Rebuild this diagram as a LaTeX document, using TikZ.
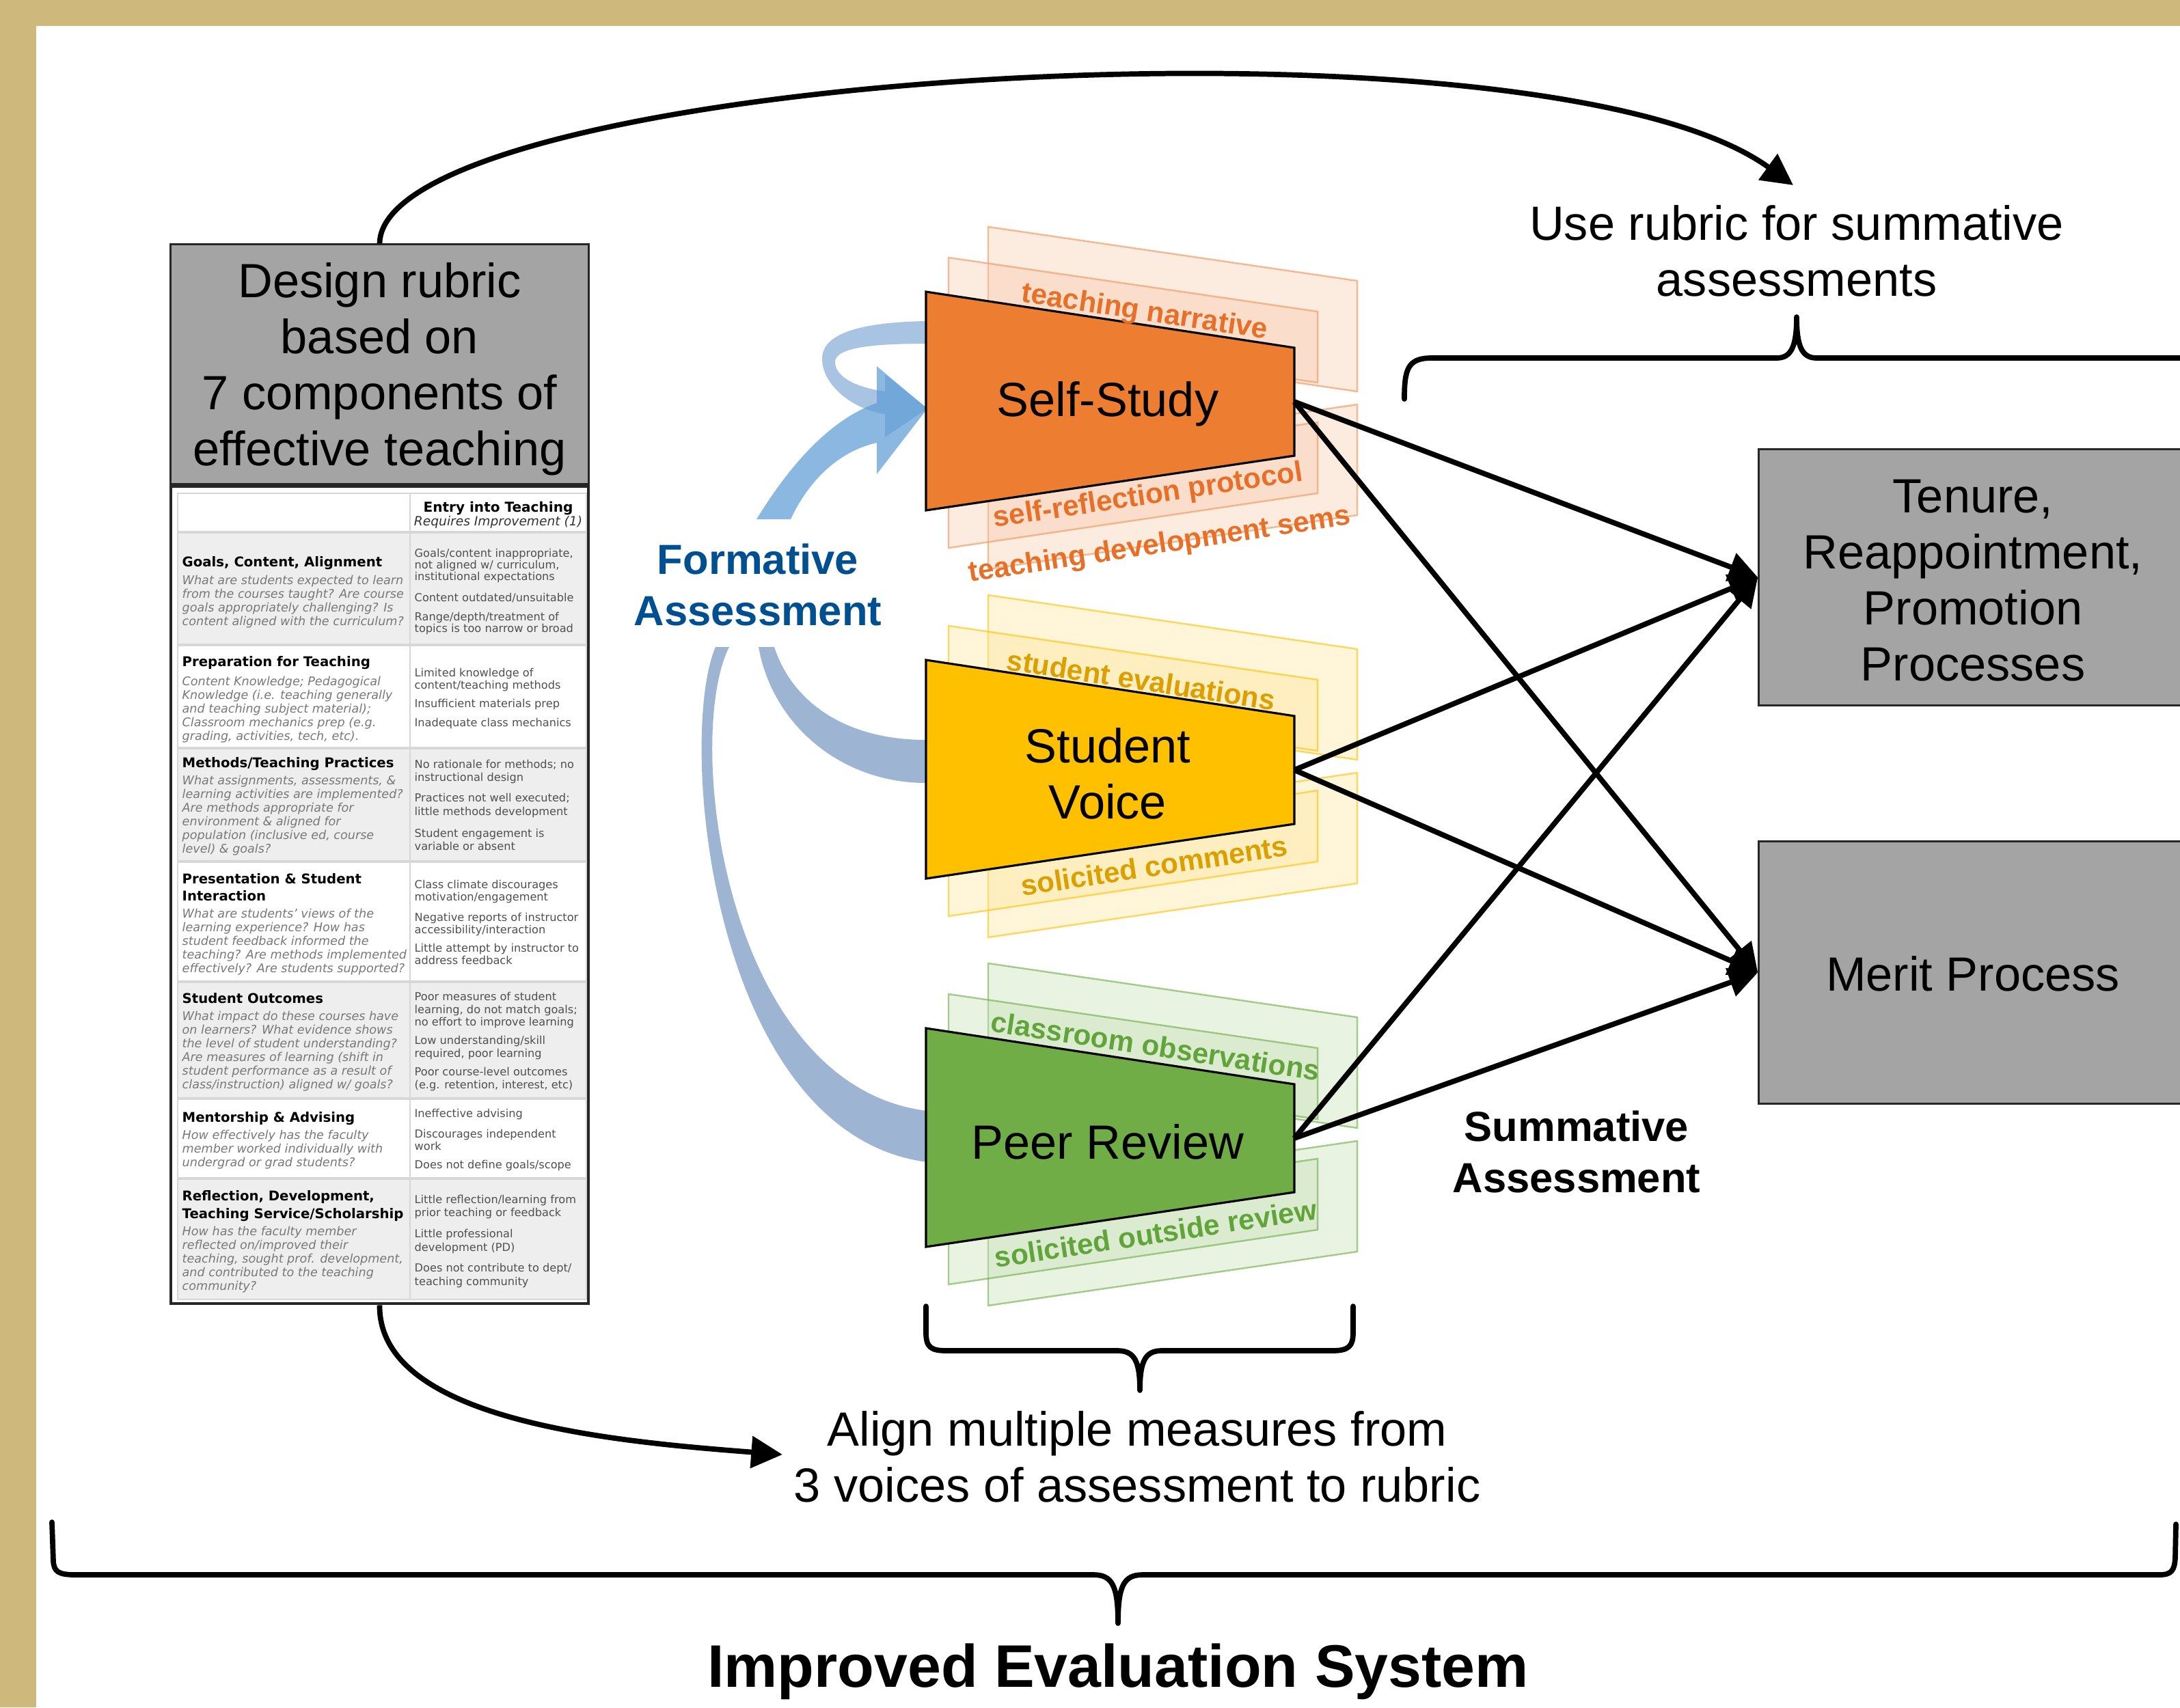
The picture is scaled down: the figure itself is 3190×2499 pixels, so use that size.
\documentclass[tikz,border=0pt]{standalone}
\usepackage{fontspec}
\setmainfont{Liberation Sans}
\newfontfamily\tabfont{DejaVu Sans}[ItalicFont={DejaVu Sans Oblique},BoldFont={DejaVu Sans Bold},BoldItalicFont={DejaVu Sans Bold Oblique}]
\usetikzlibrary{arrows.meta}

\definecolor{gold}{RGB}{206,184,124}
\definecolor{boxgray}{RGB}{163,164,163}
\definecolor{ssorange}{RGB}{237,125,49}
\definecolor{svyellow}{RGB}{255,192,0}
\definecolor{prgreen}{RGB}{112,173,71}
\definecolor{ortext}{RGB}{231,111,40}
\definecolor{yetext}{RGB}{219,159,0}
\definecolor{grtext}{RGB}{97,165,58}
\definecolor{orfill}{RGB}{248,203,173}
\definecolor{orline}{RGB}{240,160,110}
\definecolor{yefill}{RGB}{255,230,153}
\definecolor{yeline}{RGB}{255,192,0}
\definecolor{grfill}{RGB}{197,224,180}
\definecolor{grline}{RGB}{112,173,71}
\definecolor{formblue}{RGB}{0,79,145}
\definecolor{bandblue}{RGB}{157,181,211}
\definecolor{loopblue}{RGB}{160,190,225}
\definecolor{arrblue}{RGB}{91,155,213}
\definecolor{rowgray}{RGB}{238,238,238}
\definecolor{gridgray}{RGB}{215,215,215}
\definecolor{qgray}{RGB}{120,120,120}
\definecolor{dgray}{RGB}{80,80,80}

% four translucent sheets behind one voice; #1 = vertical offset, #2 = sheet style
\newcommand\sheetset[2]{%
  \draw[#2] (1446,{332+#1}) -- (1986,{411+#1}) -- (1986,{573+#1}) -- (1446,{494+#1}) -- cycle;
  \draw[#2] (1446,{671+#1}) -- (1986,{592+#1}) -- (1986,{754+#1}) -- (1446,{833+#1}) -- cycle;
  \draw[#2] (1388,{377+#1}) -- (1928,{456+#1}) -- (1928,{560+#1}) -- (1388,{481+#1}) -- cycle;
  \draw[#2] (1388,{698+#1}) -- (1928,{618+#1}) -- (1928,{722+#1}) -- (1388,{802+#1}) -- cycle;
}
% funnel-shaped voice panel; #1 = vertical offset, #2 = fill colour
\newcommand\voicepanel[2]{%
  \draw[voice, fill=#2] (1355,{427+#1}) -- (1894,{509+#1}) -- (1894,{667+#1}) -- (1355,{747+#1}) -- cycle;
}

\begin{document}
\begin{tikzpicture}[x=0.01cm, y=-0.01cm,
  big/.style={font=\fontsize{20}{23.3}\selectfont, align=center, inner sep=0pt},
  graybox/.style={draw=black!85, line width=0.9pt, fill=boxgray, inner sep=0pt},
  conn/.style={line width=2.2pt, -{Triangle[length=12pt,width=12pt]}},
  bigconn/.style={line width=2.2pt, -{Triangle[length=13pt,width=13pt]}},
  brace/.style={line width=2.2pt, line cap=round, line join=round},
  voice/.style={draw=black, line width=0.9pt},
  sheetor/.style={fill=orfill, fill opacity=0.38, draw=orline, draw opacity=0.7, line width=0.7pt},
  sheetye/.style={fill=yefill, fill opacity=0.38, draw=yeline, draw opacity=0.6, line width=0.7pt},
  sheetgr/.style={fill=grfill, fill opacity=0.38, draw=grline, draw opacity=0.6, line width=0.7pt},
  lab/.style={font=\fontsize{12}{14}\selectfont\bfseries, inner sep=0pt},
  bold/.style={font=\fontsize{17.5}{21.3}\selectfont\bfseries, align=center, inner sep=0pt},
  ttl/.style={font=\tabfont\bfseries\fontsize{5.6}{6.7}\selectfont, anchor=base west, inner sep=0pt},
  qst/.style={font=\tabfont\itshape\fontsize{5}{6}\selectfont, text=qgray, anchor=base west, inner sep=0pt},
  crt/.style={font=\tabfont\fontsize{4.6}{5.5}\selectfont, text=dgray, anchor=base west, inner sep=0pt},
  hdr/.style={font=\tabfont\bfseries\fontsize{5.7}{6.8}\selectfont, anchor=base, inner sep=0pt},
  hdri/.style={font=\tabfont\itshape\fontsize{5.3}{6.3}\selectfont, text=black!80, anchor=base, inner sep=0pt}
]
\useasboundingbox (0,0) rectangle (3190,2499);

% frame
\fill[gold] (0,0) rectangle (3190,2499);
\fill[white] (53,38) rectangle (3190,2499);

% ---------------- rubric heading and table ----------------
\node[graybox, minimum width=6.11cm, minimum height=3.50cm] (design) at (555.5,533) {};
\node[big] (design-text) at (555.5,540) {Design rubric\\based on\\7 components of\\effective teaching};

\node[draw=black!85, line width=1.2pt, fill=white, minimum width=6.11cm, minimum height=11.96cm, inner sep=0pt] (rubric) at (555.5,1310) {};

% row shading
\fill[rowgray] (260,779) rectangle (858,944);
\fill[rowgray] (260,1095) rectangle (858,1261);
\fill[rowgray] (260,1437) rectangle (858,1608);
\fill[rowgray] (260,1725) rectangle (858,1902);
% grid
\draw[gridgray, line width=0.6pt] (260,722) rectangle (858,1902);
\draw[gridgray, line width=0.6pt] (600,722) -- (600,1902);
\foreach \yy in {779,944,1095,1261,1437,1608,1725}
  \draw[gridgray, line width=0.9pt] (260,\yy) -- (858,\yy);

% header
\node[hdr] (h1) at (729,749) {Entry into Teaching};
\node[hdri] (h2) at (729,769) {Requires Improvement (1)};

% row 1
\node[ttl] (a1) at (266,829) {Goals, Content, Alignment};
\node[qst] (a2) at (266,855) {What are students expected to learn};
\node[qst] (a3) at (266,875) {from the courses taught? Are course};
\node[qst] (a4) at (266,895) {goals appropriately challenging? Is};
\node[qst] (a5) at (266,915) {content aligned with the curriculum?};
\node[crt] (b1) at (606,815) {Goals/content inappropriate,};
\node[crt] (b2) at (606,832) {not aligned w/ curriculum,};
\node[crt] (b3) at (606,849) {institutional expectations};
\node[crt] (b4) at (606,880) {Content outdated/unsuitable};
\node[crt] (b5) at (606,908) {Range/depth/treatment of};
\node[crt] (b6) at (606,925) {topics is too narrow or broad};

% row 2
\node[ttl] (c1) at (266,975) {Preparation for Teaching};
\node[qst] (c2) at (266,1003) {Content Knowledge; Pedagogical};
\node[qst] (c3) at (266,1023) {Knowledge (i.e. teaching generally};
\node[qst] (c4) at (266,1043) {and teaching subject material);};
\node[qst] (c5) at (266,1063) {Classroom mechanics prep (e.g.};
\node[qst] (c6) at (266,1083) {grading, activities, tech, etc).};
\node[crt] (d1) at (606,990) {Limited knowledge of};
\node[crt] (d2) at (606,1008) {content/teaching methods};
\node[crt] (d3) at (606,1035) {Insufficient materials prep};
\node[crt] (d4) at (606,1063) {Inadequate class mechanics};

% row 3
\node[ttl] (e1) at (266,1123) {Methods/Teaching Practices};
\node[qst] (e2) at (266,1148) {What assignments, assessments, \&};
\node[qst] (e3) at (266,1168) {learning activities are implemented?};
\node[qst] (e4) at (266,1188) {Are methods appropriate for};
\node[qst] (e5) at (266,1208) {environment \& aligned for};
\node[qst] (e6) at (266,1228) {population (inclusive ed, course};
\node[qst] (e7) at (266,1248) {level) \& goals?};
\node[crt] (f1) at (606,1124) {No rationale for methods; no};
\node[crt] (f2) at (606,1143) {instructional design};
\node[crt] (f3) at (606,1173) {Practices not well executed;};
\node[crt] (f4) at (606,1193) {little methods development};
\node[crt] (f5) at (606,1225) {Student engagement is};
\node[crt] (f6) at (606,1244) {variable or absent};

% row 4
\node[ttl] (g1) at (266,1293) {Presentation \& Student};
\node[ttl] (g2) at (266,1318) {Interaction};
\node[qst] (g3) at (266,1343) {What are students’ views of the};
\node[qst] (g4) at (266,1363) {learning experience? How has};
\node[qst] (g5) at (266,1383) {student feedback informed the};
\node[qst] (g6) at (266,1403) {teaching? Are methods implemented};
\node[qst] (g7) at (266,1423) {effectively? Are students supported?};
\node[crt] (k1) at (606,1300) {Class climate discourages};
\node[crt] (k2) at (606,1318) {motivation/engagement};
\node[crt] (k3) at (606,1348) {Negative reports of instructor};
\node[crt] (k4) at (606,1366) {accessibility/interaction};
\node[crt] (k5) at (606,1393) {Little attempt by instructor to};
\node[crt] (k6) at (606,1411) {address feedback};

% row 5
\node[ttl] (m1) at (266,1468) {Student Outcomes};
\node[qst] (m2) at (266,1493) {What impact do these courses have};
\node[qst] (m3) at (266,1513) {on learners? What evidence shows};
\node[qst] (m4) at (266,1533) {the level of student understanding?};
\node[qst] (m5) at (266,1553) {Are measures of learning (shift in};
\node[qst] (m6) at (266,1573) {student performance as a result of};
\node[qst] (m7) at (266,1593) {class/instruction) aligned w/ goals?};
\node[crt] (n1) at (606,1464) {Poor measures of student};
\node[crt] (n2) at (606,1483) {learning, do not match goals;};
\node[crt] (n3) at (606,1501) {no effort to improve learning};
\node[crt] (n4) at (606,1528) {Low understanding/skill};
\node[crt] (n5) at (606,1547) {required, poor learning};
\node[crt] (n6) at (606,1574) {Poor course-level outcomes};
\node[crt] (n7) at (606,1593) {(e.g. retention, interest, etc)};

% row 6
\node[ttl] (p1) at (266,1642) {Mentorship \& Advising};
\node[qst] (p2) at (266,1667) {How effectively has the faculty};
\node[qst] (p3) at (266,1687) {member worked individually with};
\node[qst] (p4) at (266,1707) {undergrad or grad students?};
\node[crt] (q1) at (606,1635) {Ineffective advising};
\node[crt] (q2) at (606,1665) {Discourages independent};
\node[crt] (q3) at (606,1683) {work};
\node[crt] (q4) at (606,1710) {Does not define goals/scope};

% row 7
\node[ttl] (s1) at (266,1757) {Reflection, Development,};
\node[ttl] (s2) at (266,1783) {Teaching Service/Scholarship};
\node[qst] (s3) at (266,1808) {How has the faculty member};
\node[qst] (s4) at (266,1828) {reflected on/improved their};
\node[qst] (s5) at (266,1848) {teaching, sought prof. development,};
\node[qst] (s6) at (266,1868) {and contributed to the teaching};
\node[qst] (s7) at (266,1888) {community?};
\node[crt] (u1) at (606,1761) {Little reflection/learning from};
\node[crt] (u2) at (606,1780) {prior teaching or feedback};
\node[crt] (u3) at (606,1811) {Little professional};
\node[crt] (u4) at (606,1831) {development (PD)};
\node[crt] (u5) at (606,1861) {Does not contribute to dept/};
\node[crt] (u6) at (606,1881) {teaching community};

% ---------------- formative feedback ribbons ----------------
\fill[bandblue] (1133,947) .. controls (1160,1030) and (1240,1083) .. (1355,1083)
  -- (1355,1146) .. controls (1230,1146) and (1130,1060) .. (1110,947) -- cycle;
\fill[bandblue] (1067,947) .. controls (1000,1080) and (1060,1590) .. (1357,1626)
  -- (1357,1701) .. controls (1040,1660) and (990,1080) .. (1047,947) -- cycle;
\fill[loopblue, fill opacity=0.9] (1355,470) .. controls (1240,472) and (1203,495) .. (1203,525)
  .. controls (1203,565) and (1250,600) .. (1295,606)
  -- (1295,640) -- (1357,598) -- (1295,548) -- (1295,573)
  .. controls (1245,566) and (1222,548) .. (1222,530)
  .. controls (1222,512) and (1260,503) .. (1355,503) -- cycle;
\fill[arrblue, fill opacity=0.7] (1107,760) .. controls (1150,690) and (1210,615) .. (1283,590)
  -- (1283,536) -- (1357,598) -- (1283,694) -- (1283,648)
  .. controls (1230,660) and (1185,700) .. (1157,760) -- cycle;

\node[bold, text=formblue] (formative) at (1109,856) {Formative\\Assessment};

% ---------------- measure sheets and voices ----------------
\sheetset{0}{sheetor}
\sheetset{539}{sheetye}
\sheetset{1078}{sheetgr}

\voicepanel{0}{ssorange}
\voicepanel{539}{svyellow}
\voicepanel{1078}{prgreen}

\node[big] (ss) at (1621,591) {Self-Study};
\node[big] (sv) at (1621,1132) {Student\\Voice};
\node[big] (pr) at (1621,1671) {Peer Review};

\node[lab, text=ortext, rotate=-8.6] (m-tn) at (1675,458) {teaching narrative};
\node[lab, text=ortext, rotate=8.6] (m-sr) at (1680,727) {self-reflection protocol};
\node[lab, text=ortext, rotate=8.6] (m-td) at (1697,799) {teaching development sems};
\node[lab, text=yetext, rotate=-8.6] (m-se) at (1670,995) {student evaluations};
\node[lab, text=yetext, rotate=8.6] (m-sc) at (1689,1267) {solicited comments};
\node[lab, text=grtext, rotate=-8.6] (m-co) at (1691,1531) {classroom observations};
\node[lab, text=grtext, rotate=8.6] (m-so) at (1691,1805) {solicited outside review};

\coordinate (ssOut) at (1894,588);
\coordinate (svOut) at (1894,1127);
\coordinate (prOut) at (1894,1666);

% ---------------- summative outcomes ----------------
\node[graybox, minimum width=6.26cm, minimum height=3.74cm] (tenure) at (2887,845) {};
\node[big] (tenure-text) at (2887,850) {Tenure,\\Reappointment,\\Promotion\\Processes};
\node[graybox, minimum width=6.26cm, minimum height=3.83cm] (merit) at (2887,1423.5) {};
\node[big] (merit-text) at (2887,1425) {Merit Process};

\draw[conn] (ssOut) -- (tenure.west);
\draw[conn] (ssOut) -- (merit.west);
\draw[conn] (svOut) -- (tenure.west);
\draw[conn] (svOut) -- (merit.west);
\draw[conn] (prOut) -- (tenure.west);
\draw[conn] (prOut) -- (merit.west);

\node[bold] (summative) at (2307,1686) {Summative\\Assessment};

% ---------------- outer flow ----------------
\node[big] (userubric) at (2629,367) {Use rubric for summative\\assessments};
\coordinate (topTip) at (2624,271);
\draw[bigconn] (design.north) .. controls (560,110) and (2250,0) .. (topTip);

\node[big] (align) at (1664,2132) {Align multiple measures from\\3 voices of assessment to rubric};
\coordinate (alignTip) at (1145,2129);
\draw[bigconn] (rubric.south) .. controls (554,2080) and (900,2110) .. (alignTip);

% braces
\draw[brace] (2055,584) .. controls (2055,540) and (2060,524) .. (2095,524) -- (2600,524)
  .. controls (2622,524) and (2629,505) .. (2629,464)
  .. controls (2629,505) and (2636,524) .. (2658,524) -- (3200,524);
\draw[brace] (1355,1912) -- (1355,1950) .. controls (1355,1972) and (1362,1977) .. (1385,1977) -- (1635,1977)
  .. controls (1660,1977) and (1668,1992) .. (1668,2035)
  .. controls (1668,1992) and (1676,1977) .. (1700,1977) -- (1950,1977)
  .. controls (1974,1977) and (1980,1970) .. (1980,1950) -- (1980,1912);
\draw[brace] (76,2228) -- (78,2285) .. controls (79,2300) and (85,2305) .. (110,2305) -- (1600,2305)
  .. controls (1628,2305) and (1636,2322) .. (1636,2376)
  .. controls (1636,2322) and (1644,2305) .. (1672,2305) -- (3160,2305)
  .. controls (3178,2305) and (3182,2298) .. (3183,2280) -- (3184,2231);

\node[font=\fontsize{25}{30}\selectfont\bfseries, inner sep=0pt] (ies) at (1636,2447) {Improved Evaluation System};
\end{tikzpicture}
\end{document}
